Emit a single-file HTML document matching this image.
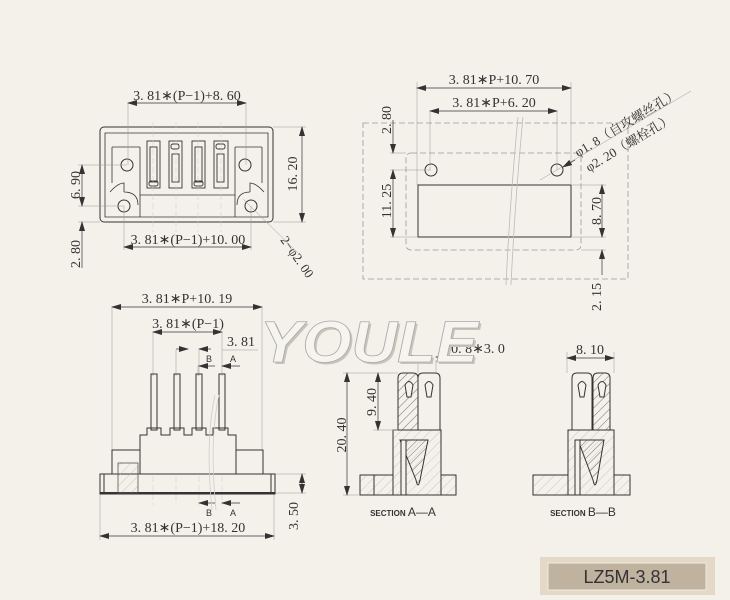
<!DOCTYPE html>
<html><head><meta charset="utf-8"><style>
html,body{margin:0;padding:0;background:#f4f1ea;}
svg{display:block}
text{font-family:"Liberation Serif","Noto Serif CJK SC",serif;fill:#333;}
text.s{font-family:"Liberation Sans",sans-serif;}
</style></head><body>
<svg width="730" height="600" viewBox="0 0 730 600" xmlns="http://www.w3.org/2000/svg">
<defs>
<marker id="ar" markerWidth="10" markerHeight="6" refX="9" refY="3" orient="auto-start-reverse" markerUnits="userSpaceOnUse"><path d="M0,0 L10,3 L0,6 z" fill="#333"/></marker>
<pattern id="hatch" width="6" height="6" patternUnits="userSpaceOnUse" patternTransform="rotate(45)"><line x1="0" y1="0" x2="0" y2="6" stroke="#555" stroke-width="0.8"/></pattern>
<pattern id="hatchl" width="7" height="7" patternUnits="userSpaceOnUse" patternTransform="rotate(45)"><line x1="0" y1="0" x2="0" y2="7" stroke="#aaa" stroke-width="0.6"/></pattern>
</defs>
<rect width="730" height="600" fill="#f4f1ea"/>

<!-- ===== TOP LEFT VIEW ===== -->
<g fill="none" stroke="#333" stroke-width="1">
<rect x="100" y="127" width="173" height="95" rx="4"/>
<path d="M105,133 H268 V217 H105 Z" stroke-width="0.8"/>
<path d="M112,147 H140 M235,147 H262 M112,147 V183 M262,147 V183" stroke-width="0.8"/>
<path d="M140,147 V195 H235 V147" stroke-width="0.8"/>
<path d="M140,195 V217 M235,195 V217" stroke-width="0.8"/>
<path d="M110,192 Q118,183 124,183 V192 M138,205 Q138,192 124,192" stroke-width="0.8"/>
<path d="M264,192 Q256,183 250,183 V192 M237,205 Q237,192 250,192" stroke-width="0.8"/>
<circle cx="127" cy="165" r="6"/><circle cx="245" cy="165" r="6"/>
<circle cx="124" cy="206" r="6"/><circle cx="251" cy="206" r="6"/>
<g stroke-width="0.9">
<rect x="147" y="141" width="13" height="47"/><rect x="150" y="147" width="7" height="35"/>
<rect x="169" y="141" width="13" height="47"/><rect x="172" y="154" width="7" height="28"/>
<rect x="192" y="141" width="13" height="47"/><rect x="195" y="147" width="7" height="35"/>
<rect x="214" y="141" width="14" height="47"/><rect x="217" y="154" width="7" height="28"/>
<rect x="171" y="144" width="8" height="5" rx="2"/><rect x="149" y="181" width="9" height="5" rx="2"/>
<rect x="216" y="144" width="9" height="5" rx="2"/><rect x="194" y="181" width="9" height="5" rx="2"/>
</g>
</g>
<g stroke="#999" stroke-width="0.5" fill="none">
<path d="M128,103 V165 M246,103 V165 M124,206 V250 M251,206 V250 M273,127 H306 M273,222 H306 M78,165 H127 M78,206 H124 M78,222 H100"/>
<path d="M153,122 V232 M176,122 V232 M198,122 V232 M221,122 V232" stroke="#ccc" stroke-dasharray="6,3"/>
<path d="M243,199 L300,255"/>
</g>
<g stroke="#333" stroke-width="0.7">
<line x1="128" y1="103" x2="246" y2="103" marker-start="url(#ar)" marker-end="url(#ar)"/>
<line x1="302" y1="127" x2="302" y2="222" marker-start="url(#ar)" marker-end="url(#ar)"/>
<line x1="82" y1="165" x2="82" y2="206" marker-start="url(#ar)" marker-end="url(#ar)"/>
<line x1="82" y1="222" x2="82" y2="268" marker-start="url(#ar)"/>
<line x1="124" y1="247" x2="251" y2="247" marker-start="url(#ar)" marker-end="url(#ar)"/>
</g>
<text x="187" y="100" font-size="14" text-anchor="middle">3. 81∗(P−1)+8. 60</text>
<text x="188" y="244" font-size="14" text-anchor="middle">3. 81∗(P−1)+10. 00</text>
<text transform="translate(80,185) rotate(-90)" font-size="14" text-anchor="middle">6. 90</text>
<text transform="translate(80,254) rotate(-90)" font-size="14" text-anchor="middle">2. 80</text>
<text transform="translate(297,174) rotate(-90)" font-size="14" text-anchor="middle">16. 20</text>
<text transform="translate(280,240) rotate(55)" font-size="13">2−φ2. 00</text>

<!-- ===== TOP RIGHT VIEW ===== -->
<g fill="none" stroke="#999" stroke-width="0.8" stroke-dasharray="6,3">
<rect x="363" y="123" width="265" height="156"/>
<rect x="406" y="153" width="175" height="97" rx="5"/>
</g>
<g fill="none" stroke="#333" stroke-width="1">
<rect x="418" y="185" width="153" height="52"/>
<circle cx="431" cy="170" r="6"/><circle cx="557" cy="170" r="6"/>
</g>
<path d="M518,117 Q510,200 506,285 M523,117 Q515,200 511,285" stroke="#bbb" stroke-width="0.8" fill="none"/>
<g stroke="#999" stroke-width="0.5" fill="none">
<path d="M417,82 V185 M571,82 V185 M430,111 V170 M557,111 V170 M390,153 H406 M390,170 H431 M390,237 H418 M571,185 H606 M571,237 H606 M581,250 H606"/>
<path d="M540,180 L691,91"/>
</g>
<g stroke="#333" stroke-width="0.7">
<line x1="417" y1="88" x2="571" y2="88" marker-start="url(#ar)" marker-end="url(#ar)"/>
<line x1="430" y1="111" x2="557" y2="111" marker-start="url(#ar)" marker-end="url(#ar)"/>
<line x1="393" y1="120" x2="393" y2="153" marker-end="url(#ar)"/>
<line x1="393" y1="170" x2="393" y2="237" marker-start="url(#ar)" marker-end="url(#ar)"/>
<line x1="602" y1="185" x2="602" y2="237" marker-start="url(#ar)" marker-end="url(#ar)"/>
<line x1="602" y1="275" x2="602" y2="250" marker-end="url(#ar)"/>
<line x1="575" y1="160" x2="563" y2="167" marker-end="url(#ar)"/>
</g>
<text x="494" y="84" font-size="14" text-anchor="middle">3. 81∗P+10. 70</text>
<text x="494" y="107" font-size="14" text-anchor="middle">3. 81∗P+6. 20</text>
<text transform="translate(391,120) rotate(-90)" font-size="14" text-anchor="middle">2. 80</text>
<text transform="translate(391,201) rotate(-90)" font-size="14" text-anchor="middle">11. 25</text>
<text transform="translate(601,211) rotate(-90)" font-size="14" text-anchor="middle">8. 70</text>
<text transform="translate(601,297) rotate(-90)" font-size="14" text-anchor="middle">2. 15</text>
<text transform="translate(578,157) rotate(-30.8)" font-size="13">φ1. 8（自攻螺丝孔）</text>
<text transform="translate(589,172) rotate(-30.8)" font-size="13">φ2. 20（螺栓孔）</text>

<!-- ===== BOTTOM LEFT VIEW ===== -->
<g stroke="#999" stroke-width="0.5" fill="none">
<path d="M112,307 V470 M262,307 V450 M153,332 V376 M222,332 V376 M176,350 V376 M199,350 V376 M198,365 V376 M222,350 H258"/>
<path d="M100,494 V540 M274,494 V540 M274,474 H306 M274,493 H306"/>
<path d="M153,476 V505 M176,476 V505 M199,476 V505 M222,476 V505" stroke="#ccc" stroke-dasharray="6,3"/>
</g>
<g stroke="#333" stroke-width="0.7">
<line x1="112" y1="307" x2="262" y2="307" marker-start="url(#ar)" marker-end="url(#ar)"/>
<line x1="153" y1="332" x2="222" y2="332" marker-start="url(#ar)" marker-end="url(#ar)"/>
<line x1="176" y1="349" x2="188" y2="349" marker-end="url(#ar)"/>
<line x1="211" y1="349" x2="199" y2="349" marker-end="url(#ar)"/>
<line x1="215" y1="366" x2="199" y2="366" marker-end="url(#ar)"/>
<line x1="240" y1="366" x2="222" y2="366" marker-end="url(#ar)"/>
<line x1="215" y1="503" x2="199" y2="503" marker-end="url(#ar)"/>
<line x1="240" y1="503" x2="222" y2="503" marker-end="url(#ar)"/>
<line x1="100" y1="536" x2="274" y2="536" marker-start="url(#ar)" marker-end="url(#ar)"/>
<line x1="302" y1="474" x2="302" y2="493" marker-start="url(#ar)" marker-end="url(#ar)"/>
</g>
<text x="187" y="303" font-size="14" text-anchor="middle">3. 81∗P+10. 19</text>
<text x="188" y="328" font-size="14" text-anchor="middle">3. 81∗(P−1)</text>
<text x="241" y="346" font-size="14" text-anchor="middle">3. 81</text>
<text class="s" x="209" y="362" font-size="9" text-anchor="middle">B</text>
<text class="s" x="233" y="362" font-size="9" text-anchor="middle">A</text>
<text class="s" x="209" y="516" font-size="9" text-anchor="middle">B</text>
<text class="s" x="233" y="516" font-size="9" text-anchor="middle">A</text>
<text x="188" y="532" font-size="14" text-anchor="middle">3. 81∗(P−1)+18. 20</text>
<text transform="translate(298,516) rotate(-90)" font-size="14" text-anchor="middle">3. 50</text>
<g fill="none" stroke="#333" stroke-width="1">
<rect x="151" y="374" width="6" height="56"/><rect x="174" y="374" width="6" height="56"/>
<rect x="196" y="374" width="6" height="56"/><rect x="219" y="374" width="6" height="56"/>
<path d="M140,474 V435 H147 V428 H161 V435 H170 V428 H184 V435 H192 V428 H206 V435 H213 V428 H228 V435 H236 V474"/>
<rect x="112" y="450" width="28" height="24"/><rect x="236" y="450" width="27" height="24"/>
<rect x="100" y="474" width="175" height="20"/>
<path d="M104,474 V494 M271,474 V494"/>
<path d="M100,493 H275" stroke-width="2"/>
</g>
<rect x="118" y="463" width="20" height="30" fill="url(#hatchl)" stroke="#555" stroke-width="0.8"/>
<path d="M215,395 Q205,440 212,510 M219,395 Q209,440 216,510" stroke="#ccc" stroke-width="0.8" fill="none"/>

<!-- ===== SECTION A-A ===== -->
<g stroke="#333" stroke-width="1">
<path d="M393,495 V430 H441 V495 Z" fill="url(#hatchl)"/>
<path d="M360,475 H393 V495 H360 Z M441,475 H456 V495 H441 Z" fill="url(#hatchl)"/>
<path d="M398,430 V378 Q398,373 403,373 H413 Q418,373 418,378 V430 Z" fill="url(#hatch)"/>
<path d="M418,430 V378 Q418,373 423,373 H435 Q440,373 440,378 V430 Z" fill="#f4f1ea"/>
<path d="M400,440 H428 L420,480 Q418,490 416,480 Z" fill="url(#hatch)"/>
<rect x="401" y="440" width="5" height="55" fill="#f4f1ea"/>
<path d="M405,385 Q409,378 413,385 L411,397 H407 Z" fill="#f4f1ea"/>
<path d="M425,385 Q429,378 433,385 L431,397 H427 Z" fill="#f4f1ea"/>
<path d="M374,475 V495" fill="none"/>
</g>
<g stroke="#999" stroke-width="0.5" fill="none"><path d="M343,373 H398 M373,430 H398 M343,495 H360 M418,360 V373 M436,360 V373 M436,357 H475"/></g>
<g stroke="#333" stroke-width="0.7">
<line x1="347" y1="373" x2="347" y2="495" marker-start="url(#ar)" marker-end="url(#ar)"/>
<line x1="378" y1="373" x2="378" y2="430" marker-start="url(#ar)" marker-end="url(#ar)"/>
<line x1="408" y1="357" x2="418" y2="357" marker-end="url(#ar)"/>
<line x1="446" y1="357" x2="436" y2="357" marker-end="url(#ar)"/>
</g>
<text transform="translate(346,435) rotate(-90)" font-size="14" text-anchor="middle">20. 40</text>
<text transform="translate(376,402) rotate(-90)" font-size="14" text-anchor="middle">9. 40</text>
<text x="478" y="353" font-size="14" text-anchor="middle">0. 8∗3. 0</text>
<text class="s" x="403" y="516" font-size="8" font-weight="bold" text-anchor="middle">SECTION <tspan font-size="12" font-weight="normal">A—A</tspan></text>

<!-- ===== SECTION B-B ===== -->
<g stroke="#333" stroke-width="1">
<path d="M568,495 V430 H614 V495 Z" fill="url(#hatchl)"/>
<path d="M533,475 H568 V495 H533 Z M614,475 H630 V495 H614 Z" fill="url(#hatchl)"/>
<path d="M572,430 V378 Q572,373 577,373 H587 Q592,373 592,378 V430 Z" fill="#f4f1ea"/>
<path d="M593,430 V378 Q593,373 598,373 H605 Q610,373 610,378 V430 Z" fill="url(#hatch)"/>
<path d="M578,440 H604 L597,480 Q595,490 593,480 Z" fill="url(#hatch)"/>
<rect x="575" y="440" width="5" height="55" fill="#f4f1ea"/>
<path d="M578,385 Q582,378 586,385 L584,397 H580 Z" fill="#f4f1ea"/>
<path d="M598,385 Q602,378 606,385 L604,397 H600 Z" fill="#f4f1ea"/>
</g>
<g stroke="#999" stroke-width="0.5" fill="none"><path d="M567,352 V373 M614,352 V373"/></g>
<line x1="567" y1="358" x2="614" y2="358" stroke="#333" stroke-width="0.7" marker-start="url(#ar)" marker-end="url(#ar)"/>
<text x="590" y="354" font-size="14" text-anchor="middle">8. 10</text>
<text class="s" x="583" y="516" font-size="8" font-weight="bold" text-anchor="middle">SECTION <tspan font-size="12" font-weight="normal">B—B</tspan></text>

<!-- ===== WATERMARK ===== -->
<g transform="translate(0,0)">
<text class="s" x="262" y="364" font-size="58" font-weight="bold" font-style="italic" textLength="218" lengthAdjust="spacingAndGlyphs" style="fill:#c8c4bb;">YOULE</text>
<text class="s" x="260" y="362" font-size="58" font-weight="bold" font-style="italic" textLength="218" lengthAdjust="spacingAndGlyphs" style="fill:#f6f4ee;stroke:#aaa;stroke-width:0.8;">YOULE</text>
</g>

<!-- ===== LABEL ===== -->
<rect x="540" y="557" width="175" height="38" fill="#e3d9c6"/>
<rect x="548" y="563" width="158" height="27" fill="#bfb3a0" stroke="#f0ebe0" stroke-width="1"/>
<text class="s" x="627" y="583" font-size="18" text-anchor="middle">LZ5M-3.81</text>
</svg>
</body></html>
